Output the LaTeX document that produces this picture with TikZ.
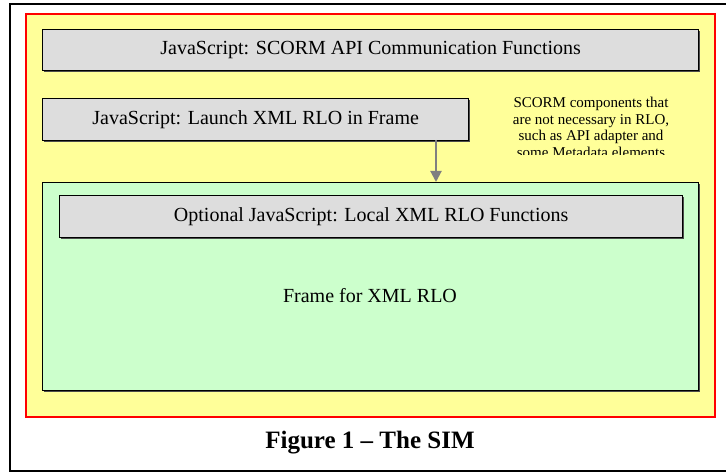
\documentclass[tikz,border=0pt]{standalone}
\usepackage{fontspec}
\setmainfont{Liberation Serif}
\usetikzlibrary{arrows.meta,shadows}
\definecolor{fillyellow}{RGB}{255,255,153}
\definecolor{fillgreen}{RGB}{204,255,204}
\definecolor{fillgray}{RGB}{221,221,221}
\definecolor{arrowgray}{RGB}{128,128,128}
\tikzset{
  boxshadow/.style={drop shadow={shadow xshift=1.5pt,shadow yshift=-1.5pt,fill=black!70,opacity=1}},
  graybox/.style={draw=black,line width=1.3pt,fill=fillgray,boxshadow},
  greenbox/.style={draw=black,line width=1.3pt,fill=fillgreen,boxshadow},
  redframe/.style={draw=red,line width=2pt,fill=fillyellow},
  boxtext/.style={font=\fontsize{20}{24}\selectfont},
}
\begin{document}
\begin{tikzpicture}[x=1pt,y=-1pt]
\useasboundingbox (0,0) rectangle (726,473);
\draw[line width=1.5pt] (10,4) rectangle (727,471);
\draw[redframe] (26,14) rectangle (715,417);
\node[graybox,minimum width=656pt,minimum height=41pt,inner sep=0pt,anchor=north west,boxtext] (api) at (42,29) {JavaScript: SCORM API Communication Functions};
\node[graybox,minimum width=426pt,minimum height=42pt,inner sep=0pt,anchor=north west,boxtext] (launch) at (42,98) {JavaScript: Launch XML RLO in Frame};
\node[greenbox,minimum width=656pt,minimum height=208pt,inner sep=0pt,anchor=north west] (frame) at (42,182) {};
\node[boxtext] (framelabel) at (370,296) {Frame for XML RLO};
\node[graybox,minimum width=623pt,minimum height=42pt,inner sep=0pt,anchor=north west,boxtext] (local) at (59,195) {Optional JavaScript: Local XML RLO Functions};
\coordinate (arrstart) at (436,140);
\draw[draw=arrowgray,line width=2pt,-{Triangle[length=11pt,width=11pt,fill=arrowgray]}] (arrstart) -- (arrstart |- frame.north);
\begin{scope}
\clip (500,90) rectangle (710,155);
\node[align=center,font=\fontsize{15}{16.5}\selectfont,anchor=north,inner sep=0pt] (note) at (591,97) {SCORM components that\\are not necessary in RLO,\\such as API adapter and\\some Metadata elements};
\end{scope}
\node[font=\bfseries\fontsize{25}{30}\selectfont] (caption) at (370,443) {Figure 1 – The SIM};
\end{tikzpicture}
\end{document}
